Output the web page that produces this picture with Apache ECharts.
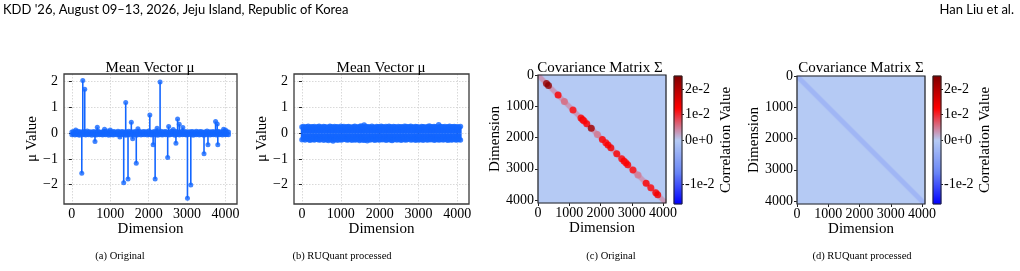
<!DOCTYPE html>
<html><head><meta charset="utf-8">
<script src="https://cdn.jsdelivr.net/npm/echarts@6/dist/echarts.min.js"></script>
<style>html,body{margin:0;padding:0;background:#fff}#c{width:1020px;height:271px}</style>
</head><body><div id="c"></div>
<script>
// ---------------- data ----------------
const dimTicks = [0, 1000, 2000, 3000, 4000];
const muTicks = [-2, -1, 0, 1, 2];
const bulkStep = 40; // spacing (in dimensions) of the bulk samples below
// (a) Original mean vector: bulk small values (upper / lower envelope) + visible outliers
const upperA = [0.05,0.07,0.04,0.06,0.08,0.05,0.06,0.04,0.07,0.05,
 0.09,0.05,0.06,0.04,0.07,0.05,0.06,0.08,0.05,0.04,
 0.06,0.07,0.05,0.09,0.04,0.06,0.05,0.07,0.06,0.04,
 0.08,0.05,0.06,0.07,0.04,0.06,0.05,0.08,0.05,0.06,
 0.04,0.07,0.06,0.05,0.08,0.04,0.06,0.07,0.05,0.06,
 0.09,0.05,0.04,0.06,0.07,0.05,0.06,0.04,0.08,0.05,
 0.06,0.07,0.05,0.04,0.06,0.08,0.05,0.06,0.07,0.04,
 0.05,0.06,0.08,0.05,0.07,0.04,0.06,0.05,0.07,0.06,
 0.04,0.08,0.05,0.06,0.07,0.05,0.04,0.06,0.09,0.05,
 0.06,0.05,0.07,0.04,0.06,0.08,0.05,0.06,0.04,0.07,
 0.05,0.06,0.05];
const lowerA = [-0.06,-0.04,-0.07,-0.05,-0.06,-0.08,-0.04,-0.06,-0.05,-0.07,
 -0.05,-0.06,-0.04,-0.08,-0.05,-0.06,-0.07,-0.04,-0.06,-0.05,
 -0.07,-0.05,-0.06,-0.04,-0.08,-0.05,-0.06,-0.07,-0.04,-0.06,
 -0.05,-0.07,-0.06,-0.04,-0.05,-0.08,-0.06,-0.05,-0.07,-0.04,
 -0.06,-0.05,-0.08,-0.06,-0.04,-0.07,-0.05,-0.06,-0.04,-0.07,
 -0.05,-0.06,-0.07,-0.05,-0.04,-0.06,-0.08,-0.05,-0.06,-0.07,
 -0.04,-0.06,-0.05,-0.07,-0.06,-0.04,-0.05,-0.08,-0.06,-0.05,
 -0.07,-0.04,-0.06,-0.05,-0.06,-0.07,-0.05,-0.04,-0.06,-0.08,
 -0.05,-0.06,-0.04,-0.07,-0.05,-0.06,-0.08,-0.05,-0.06,-0.04,
 -0.07,-0.05,-0.06,-0.04,-0.07,-0.05,-0.06,-0.05,-0.07,-0.04,
 -0.06,-0.05,-0.06];
const outlierDimsA = [100,258,284,335,602,662,850,1000,1250,1350,1402,1462,1548,1583,1677,1720,2030,2116,2168,2219,2297,2495,2520,2640,2710,2753,2796,2890,3010,3097,3441,3544,3742,3785,3800,3950,4000];
const outlierValsA = [0.12,-1.56,2.05,1.71,-0.32,0.23,0.15,0.12,-0.15,-1.92,1.19,-1.78,0.43,-0.22,-1.17,0.17,0.71,-0.45,-1.78,0.19,1.99,-0.94,0.26,0.14,-0.39,0.55,0.35,0.22,-2.53,-2.01,-0.80,-0.45,0.45,0.36,-0.45,0.15,0.12];
// (b) RUQuant processed mean vector: dense band (upper / lower envelope)
const upperB = [0.24,0.26,0.22,0.25,0.27,0.23,0.25,0.24,0.26,0.22,
 0.25,0.27,0.24,0.23,0.26,0.25,0.22,0.24,0.27,0.25,
 0.23,0.26,0.24,0.25,0.22,0.27,0.24,0.26,0.23,0.25,
 0.26,0.24,0.22,0.25,0.27,0.24,0.23,0.26,0.28,0.25,
 0.32,0.26,0.24,0.25,0.23,0.27,0.24,0.22,0.26,0.25,
 0.24,0.27,0.25,0.23,0.26,0.24,0.27,0.25,0.23,0.26,
 0.25,0.22,0.26,0.24,0.25,0.23,0.27,0.26,0.24,0.25,
 0.27,0.24,0.23,0.26,0.25,0.24,0.22,0.26,0.25,0.24,
 0.23,0.26,0.28,0.25,0.24,0.26,0.25,0.23,0.33,0.26,
 0.25,0.24,0.26,0.23,0.25,0.27,0.24,0.25,0.26,0.24,
 0.25,0.23,0.26];
const lowerB = [-0.25,-0.23,-0.26,-0.22,-0.24,-0.27,-0.25,-0.24,-0.26,-0.23,
 -0.24,-0.26,-0.25,-0.22,-0.27,-0.24,-0.25,-0.28,-0.23,-0.26,
 -0.30,-0.25,-0.24,-0.27,-0.23,-0.26,-0.25,-0.22,-0.24,-0.26,
 -0.25,-0.23,-0.27,-0.24,-0.26,-0.25,-0.23,-0.28,-0.24,-0.26,
 -0.27,-0.25,-0.29,-0.24,-0.26,-0.23,-0.25,-0.27,-0.24,-0.25,
 -0.26,-0.24,-0.25,-0.23,-0.27,-0.25,-0.24,-0.26,-0.28,-0.25,
 -0.23,-0.26,-0.24,-0.25,-0.27,-0.23,-0.25,-0.26,-0.24,-0.22,
 -0.26,-0.25,-0.23,-0.27,-0.24,-0.26,-0.25,-0.24,-0.27,-0.23,
 -0.25,-0.26,-0.24,-0.25,-0.23,-0.27,-0.25,-0.24,-0.26,-0.25,
 -0.24,-0.26,-0.23,-0.25,-0.27,-0.24,-0.26,-0.25,-0.23,-0.26,
 -0.25,-0.24,-0.26];
// (c)/(d) covariance matrix: 4096 dims, diagonal band value and strong diagonal entries
const covDims = 4096;
const covBins = 128;
const covBandHalfBins = 3;
const covBandC = 0.003;
const covBandD = -0.002;
const covSpotDims = [271,335,643,845,1120,1375,1430,1475,1560,1705,1900,2060,2170,2240,2330,2520,2680,2750,2810,2870,3040,3200,3460,3610,3770,3830];
const covSpotVals = [0.023,0.024,0.013,0.006,0.012,0.013,0.014,0.012,0.013,0.022,0.005,0.013,0.012,0.013,0.014,0.013,0.012,0.013,0.012,0.013,0.012,0.005,0.013,0.012,0.013,0.014];
// colour bar
const cbMin = -0.0145, cbMax = 0.0252;
const cbTickVals = [-0.01, 0, 0.01, 0.02];
const cbTickLabels = ['-1e-2', '0e+0', '1e-2', '2e-2'];
const cmapColors = ['#0000ff', '#6a86f6', '#b5caf4', '#ff0000', '#800000'];

// ---------------- build ----------------
const SERIF = '"Liberation Serif","Times New Roman",serif';
const SANS = 'Lato,"Open Sans",sans-serif';
const BLUE = '#1366ff';
const norm = v => v >= 0 ? 0.5 + 0.5 * v / cbMax : 0.5 - 0.5 * v / cbMin;
const minus = v => v < 0 ? '\u2212' + Math.abs(v) : String(v);
const plain = v => String(v);

function stemData(upper, lower, dims, vals) {
  const pts = [];
  upper.forEach((v, i) => pts.push([i * bulkStep, v]));
  lower.forEach((v, i) => pts.push([i * bulkStep, v]));
  if (dims) dims.forEach((d, i) => pts.push([d, vals[i]]));
  pts.sort((a, b) => a[0] - b[0]);
  return pts;
}
const stemA = stemData(upperA, lowerA, outlierDimsA, outlierValsA);
const stemB = stemData(upperB, lowerB);

const cats = Array.from({length: covBins}, (_, i) => i);
function covMatrix(bandVal) {
  const d = [];
  for (let i = 0; i < covBins; i++)
    for (let j = 0; j < covBins; j++)
      d.push([i, j, norm(Math.abs(i - j) <= covBandHalfBins ? bandVal : 0)]);
  return d;
}
const spotData = covSpotDims.map((d, i) => [d, d, norm(covSpotVals[i])]);
const cbData = cats.map(k => [0, k, (k + 0.5) / covBins]);
const cbNormTicks = cbTickVals.map(norm);

const tickStyle = {show: true, length: 3, lineStyle: {color: '#222', width: 1}};
const lblStyle = {fontFamily: SERIF, fontSize: 14, color: '#000', hideOverlap: false};
const nameStyle = {fontFamily: SERIF, fontSize: 15, color: '#000'};
const dotted = {show: true, lineStyle: {type: [1.5, 1.5], color: '#cfcfcf', width: 0.8}};

function muX(grid) {
  return {gridIndex: grid, type: 'value', min: -205, max: 4300,
    axisLine: {show: false}, axisTick: Object.assign({customValues: dimTicks}, tickStyle),
    axisLabel: Object.assign({customValues: dimTicks, margin: 3, formatter: plain}, lblStyle),
    splitLine: dotted, name: 'Dimension', nameLocation: 'middle', nameGap: 13, nameTextStyle: nameStyle};
}
function muY(grid, gap) {
  return {gridIndex: grid, type: 'value', min: -2.75, max: 2.3,
    axisLine: {show: false}, axisTick: Object.assign({customValues: muTicks}, tickStyle),
    axisLabel: Object.assign({customValues: muTicks, margin: 6, formatter: minus}, lblStyle),
    splitLine: dotted, name: 'μ Value', nameLocation: 'middle', nameGap: gap, nameTextStyle: nameStyle};
}
function catAx(grid, pos, inverse) {
  return {gridIndex: grid, type: 'category', data: cats, show: false, position: pos, inverse: !!inverse};
}
function dimX(grid) {
  return {gridIndex: grid, type: 'value', min: 0, max: covDims, position: 'bottom',
    axisLine: {show: false}, axisTick: Object.assign({customValues: dimTicks}, tickStyle),
    axisLabel: Object.assign({customValues: dimTicks, margin: 3, formatter: plain}, lblStyle),
    splitLine: {show: false}, name: 'Dimension', nameLocation: 'middle', nameGap: 15, nameTextStyle: nameStyle};
}
function dimY(grid, showName) {
  return {gridIndex: grid, type: 'value', min: 0, max: covDims, inverse: true, position: 'left',
    axisLine: {show: false}, axisTick: Object.assign({customValues: dimTicks}, tickStyle),
    axisLabel: Object.assign({customValues: dimTicks, margin: 4, formatter: plain}, lblStyle),
    splitLine: {show: false}, name: showName ? 'Dimension' : '', nameLocation: 'middle', nameGap: 27, nameTextStyle: nameStyle};
}
function cbY(grid, gap) {
  return {gridIndex: grid, type: 'value', min: 0, max: 1, position: 'right',
    axisLine: {show: false}, axisTick: {show: true, length: 2, customValues: cbNormTicks, lineStyle: {color: '#222'}},
    axisLabel: Object.assign({customValues: cbNormTicks, margin: 3,
      formatter: v => { let b = 0; cbNormTicks.forEach((t, i) => { if (Math.abs(t - v) < Math.abs(cbNormTicks[b] - v)) b = i; }); return cbTickLabels[b]; }}, lblStyle),
    splitLine: {show: false}, name: 'Correlation Value', nameLocation: 'middle', nameGap: gap, nameTextStyle: nameStyle};
}

const gridBase = {show: true, containLabel: false, outerBoundsMode: 'none', backgroundColor: 'transparent', z: 5};
const grids = [
  Object.assign({left: 64, top: 74, width: 173, height: 130, borderColor: '#3a3a3a', borderWidth: 1.3}, gridBase),
  Object.assign({left: 294, top: 74, width: 175, height: 130, borderColor: '#3a3a3a', borderWidth: 1.3}, gridBase),
  Object.assign({left: 538, top: 75, width: 128, height: 128, borderColor: '#222', borderWidth: 1.2}, gridBase),
  Object.assign({left: 674, top: 76, width: 8, height: 128, borderColor: '#222', borderWidth: 1}, gridBase),
  Object.assign({left: 797, top: 76, width: 128, height: 128, borderColor: '#222', borderWidth: 1.2}, gridBase),
  Object.assign({left: 933, top: 76, width: 8, height: 128, borderColor: '#222', borderWidth: 1}, gridBase)
];

const xAxes = [muX(0), muX(1), catAx(2, 'top'), dimX(2), {gridIndex: 3, type: 'category', data: ['c'], show: false},
  catAx(4, 'top'), dimX(4), {gridIndex: 5, type: 'category', data: ['c'], show: false}];
const yAxes = [muY(0, 13), muY(1, 14), catAx(2, 'right', true), dimY(2, true), catAx(3, 'left'), cbY(3, 30),
  catAx(4, 'right', true), dimY(4, true), catAx(5, 'left'), cbY(5, 27)];

const series = [
  {type: 'bar', xAxisIndex: 0, yAxisIndex: 0, data: stemA, barWidth: 1.6, itemStyle: {color: BLUE}, silent: true, large: false},
  {type: 'scatter', xAxisIndex: 0, yAxisIndex: 0, data: stemA, symbolSize: 5, itemStyle: {color: BLUE}, silent: true},
  {type: 'bar', xAxisIndex: 1, yAxisIndex: 1, data: stemB, barWidth: 2.4, itemStyle: {color: BLUE}, silent: true},
  {type: 'scatter', xAxisIndex: 1, yAxisIndex: 1, data: stemB, symbolSize: 5.5, itemStyle: {color: BLUE}, silent: true},
  {type: 'heatmap', xAxisIndex: 2, yAxisIndex: 2, data: covMatrix(covBandC), progressive: 0, silent: true},
  {type: 'scatter', xAxisIndex: 3, yAxisIndex: 3, data: spotData, symbolSize: 7, silent: true},
  {type: 'heatmap', xAxisIndex: 4, yAxisIndex: 4, data: cbData, progressive: 0, silent: true},
  {type: 'heatmap', xAxisIndex: 5, yAxisIndex: 6, data: covMatrix(covBandD), progressive: 0, silent: true},
  {type: 'heatmap', xAxisIndex: 7, yAxisIndex: 8, data: cbData, progressive: 0, silent: true}
];

function ttl(text, x, y, font, size) {
  return {text, left: x, top: y, textAlign: 'center', padding: 0,
    textStyle: {fontFamily: font, fontSize: size, fontWeight: 'normal', color: '#000'}};
}
const titles = [
  {text: "KDD '26, August 09\u201313, 2026, Jeju Island, Republic of Korea", left: 3, top: 3, padding: 0,
    textStyle: {fontFamily: SANS, fontSize: 13, fontWeight: 'normal', color: '#000'}},
  {text: 'Han Liu et al.', right: 6, top: 3, padding: 0,
    textStyle: {fontFamily: SANS, fontSize: 13, fontWeight: 'normal', color: '#000'}},
  ttl('Mean Vector μ', 150, 61, SERIF, 15),
  ttl('Mean Vector μ', 381, 61, SERIF, 15),
  ttl('Covariance Matrix Σ', 600, 61, SERIF, 15),
  ttl('Covariance Matrix Σ', 861, 61, SERIF, 15),
  ttl('(a) Original', 120, 251, SERIF, 10.5),
  ttl('(b) RUQuant processed', 342, 251, SERIF, 10.5),
  ttl('(c) Original', 611, 251, SERIF, 10.5),
  ttl('(d) RUQuant processed', 862, 251, SERIF, 10.5)
];

const chart = echarts.init(document.getElementById('c'), null, {renderer: 'canvas', width: 1020, height: 271});
chart.setOption({
  animation: false,
  backgroundColor: '#fff',
  title: titles,
  grid: grids,
  xAxis: xAxes,
  yAxis: yAxes,
  visualMap: [{type: 'continuous', show: false, min: 0, max: 1, dimension: 2,
    seriesIndex: [4, 5, 6, 7, 8], inRange: {color: cmapColors}}],
  series: series
});
</script></body></html>
